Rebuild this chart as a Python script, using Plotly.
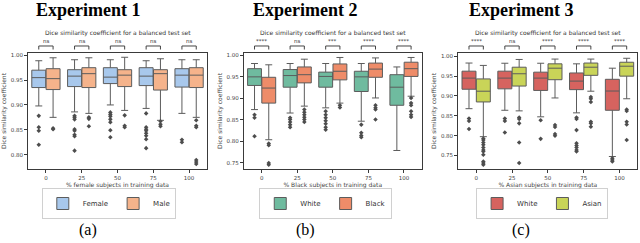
import plotly.graph_objects as go

categories = ["0", "25", "50", "75", "100"]

# ---------- Experiment 1 ----------
e1_groups = ["Female", "Male"]
e1_lo = [[0.898, 0.886, 0.900, 0.893, 0.883], [0.875, 0.883, 0.889, 0.869, 0.875]]
e1_q1 = [[0.935, 0.937, 0.943, 0.939, 0.936], [0.931, 0.935, 0.937, 0.930, 0.935]]
e1_med = [[0.955, 0.958, 0.956, 0.958, 0.960], [0.953, 0.963, 0.960, 0.963, 0.960]]
e1_q3 = [[0.970, 0.971, 0.975, 0.975, 0.973], [0.973, 0.975, 0.971, 0.971, 0.975]]
e1_hi = [[0.989, 0.991, 0.991, 0.989, 0.991], [0.995, 0.995, 0.996, 0.993, 0.991]]
e1_out = [
    [[0.878, 0.855, 0.848, 0.820],
     [0.878, 0.875, 0.871, 0.851, 0.848, 0.840, 0.837, 0.808],
     [0.885, 0.881, 0.877, 0.871, 0.865, 0.849, 0.835],
     [0.883, 0.855, 0.851, 0.848, 0.843, 0.838, 0.831, 0.813],
     [0.830, 0.825]],
    [[0.853, 0.851],
     [0.875, 0.872, 0.857],
     [0.879, 0.858, 0.855],
     [0.867, 0.861, 0.857],
     [0.869, 0.858, 0.855, 0.789, 0.785, 0.781]],
]
e1_sig = ["ns", "ns", "ns", "ns", "ns"]

# ---------- Experiment 2 ----------
e2_groups = ["White", "Black"]
e2_lo = [[0.874, 0.866, 0.878, 0.847, 0.779], [0.804, 0.882, 0.889, 0.901, 0.905]]
e2_q1 = [[0.930, 0.926, 0.926, 0.916, 0.884], [0.889, 0.936, 0.943, 0.949, 0.951]]
e2_med = [[0.950, 0.953, 0.951, 0.950, 0.926], [0.924, 0.955, 0.963, 0.968, 0.969]]
e2_q3 = [[0.969, 0.967, 0.961, 0.963, 0.955], [0.949, 0.973, 0.980, 0.982, 0.984]]
e2_hi = [[0.981, 0.981, 0.981, 0.981, 0.973], [0.978, 0.991, 0.995, 0.994, 0.995]]
e2_out = [
    [[0.862, 0.855, 0.812],
     [0.855, 0.851, 0.845, 0.839, 0.833],
     [0.870, 0.862, 0.855, 0.848, 0.841, 0.833, 0.827],
     [0.839, 0.820, 0.814, 0.810],
     []],
    [[0.795, 0.791, 0.750, 0.746],
     [0.874, 0.868, 0.862, 0.856, 0.851, 0.845],
     [0.884, 0.879],
     [0.884, 0.878, 0.874, 0.851],
     [0.901, 0.889, 0.884, 0.870, 0.862, 0.857]],
]
e2_sig = ["****", "ns", "***", "****", "****"]

# ---------- Experiment 3 ----------
e3_groups = ["White", "Asian"]
e3_lo = [[0.868, 0.864, 0.8475, 0.8575, 0.7475], [0.7975, 0.8625, 0.895, 0.912, 0.893]]
e3_q1 = [[0.917, 0.918, 0.914, 0.916, 0.864], [0.885, 0.925, 0.941, 0.952, 0.950]]
e3_med = [[0.945, 0.945, 0.945, 0.9375, 0.9125], [0.912, 0.956, 0.970, 0.9725, 0.975]]
e3_q3 = [[0.9625, 0.9625, 0.960, 0.958, 0.942], [0.943, 0.9725, 0.981, 0.983, 0.985]]
e3_hi = [[0.983, 0.9825, 0.9825, 0.981, 0.970], [0.977, 0.992, 0.993, 0.993, 0.995]]
e3_out = [
    [[0.843, 0.837, 0.817],
     [0.843, 0.837, 0.808],
     [0.839, 0.792],
     [0.846, 0.842, 0.814, 0.781, 0.775, 0.770, 0.764, 0.760],
     [0.743, 0.739, 0.735]],
    [[0.793, 0.789, 0.783, 0.777, 0.770, 0.764, 0.760, 0.752, 0.735, 0.731, 0.727],
     [0.846, 0.842, 0.831, 0.783, 0.731],
     [0.827, 0.822, 0.804, 0.800],
     [0.8975, 0.893, 0.885, 0.835, 0.831, 0.8225],
     [0.866, 0.862, 0.835, 0.828, 0.789]],
]
e3_sig = ["****", "ns", "****", "****", "****"]

panels = [
    dict(title="Experiment 1", label="(a)", groups=e1_groups, lo=e1_lo, q1=e1_q1, med=e1_med,
         q3=e1_q3, hi=e1_hi, out=e1_out, sig=e1_sig, colors=["#a8c8ec", "#f5b38b"],
         xtitle="% female subjects in training data", yrange=[0.771, 1.0046],
         dom=[0.0438, 0.3234], tcx=0.1375, lcx=0.1375, gcx=0.17),
    dict(title="Experiment 2", label="(b)", groups=e2_groups, lo=e2_lo, q1=e2_q1, med=e2_med,
         q3=e2_q3, hi=e2_hi, out=e2_out, sig=e2_sig, colors=["#6fbb9f", "#ee8c69"],
         xtitle="% Black subjects in training data", yrange=[0.736, 1.0054],
         dom=[0.381, 0.659], tcx=0.4766, lcx=0.4766, gcx=0.509),
    dict(title="Experiment 3", label="(c)", groups=e3_groups, lo=e3_lo, q1=e3_q1, med=e3_med,
         q3=e3_q3, hi=e3_hi, out=e3_out, sig=e3_sig, colors=["#d6635f", "#c9d458"],
         xtitle="% Asian subjects in training data", yrange=[0.716, 1.0083],
         dom=[0.716, 0.996], tcx=0.814, lcx=0.814, gcx=0.847),
]

FONT = "DejaVu Sans"
LINE = "#5c5c5c"
fig = go.Figure()
layout = dict(width=640, height=243, margin=dict(l=0, r=0, t=0, b=0),
              paper_bgcolor="white", plot_bgcolor="white", showlegend=True,
              font=dict(family=FONT, size=6, color="#333"))
annotations = []
shapes = []
ydom = [0.3045, 0.7819]
offsets = [-0.2, 0.2]
idx = list(range(len(categories)))

for p_i, p in enumerate(panels):
    n = "" if p_i == 0 else str(p_i + 1)
    xa, ya = "x" + n, "y" + n
    lg = "legend" + n
    for g in range(2):
        xs = [i + offsets[g] for i in idx]
        fig.add_trace(go.Box(
            x=xs, q1=p["q1"][g], median=p["med"][g], q3=p["q3"][g],
            lowerfence=p["lo"][g], upperfence=p["hi"][g],
            name=p["groups"][g], width=0.39, whiskerwidth=0.5,
            fillcolor=p["colors"][g], line=dict(color=LINE, width=1),
            boxpoints=False, xaxis=xa, yaxis=ya, legend=lg, showlegend=True,
            hoverinfo="skip"))
        ox, oy = [], []
        for i in idx:
            for v in p["out"][g][i]:
                ox.append(i + offsets[g])
                oy.append(v)
        fig.add_trace(go.Scatter(
            x=ox, y=oy, mode="markers", xaxis=xa, yaxis=ya, showlegend=False,
            marker=dict(symbol="diamond", size=3.5, color="#4d4d4d"), hoverinfo="skip"))
    layout["xaxis" + n] = dict(
        domain=p["dom"], anchor=ya, range=[-0.5, 4.5], tickvals=idx, ticktext=categories,
        showline=True, mirror=True, linecolor="#3a3a3a", linewidth=1, ticks="outside",
        ticklen=3, tickcolor="#3a3a3a", showgrid=False, zeroline=False,
        tickfont=dict(size=5.5, family=FONT, color="#444"),
        title=dict(text=p["xtitle"], font=dict(size=6, family=FONT, color="#444"), standoff=2))
    layout["yaxis" + n] = dict(
        domain=ydom, anchor=xa, range=p["yrange"], dtick=0.05, tick0=0, tickformat=".2f",
        showline=True, mirror=True, linecolor="#3a3a3a", linewidth=1, ticks="outside",
        ticklen=3, tickcolor="#3a3a3a", showgrid=False, zeroline=False,
        tickfont=dict(size=5.5, family=FONT, color="#444"),
        title=dict(text="Dice similarity coefficient", font=dict(size=6, family=FONT, color="#444"),
                   standoff=3))
    layout[lg] = dict(orientation="h", x=p["gcx"], y=1 - 203.5 / 243, xanchor="center",
                      yanchor="middle", bordercolor="#d0d0d0", borderwidth=1, bgcolor="white",
                      font=dict(size=7, family=FONT, color="#333"), itemwidth=30,
                      tracegroupgap=0)
    cx = (p["dom"][0] + p["dom"][1]) / 2
    annotations.append(dict(text="<b>%s</b>" % p["title"], x=p["tcx"], y=1 - 10.5 / 243,
                            xref="paper", yref="paper", showarrow=False, xanchor="center",
                            yanchor="middle",
                            font=dict(family="Liberation Serif", size=18, color="black")))
    annotations.append(dict(text=p["label"], x=p["lcx"], y=1 - 230 / 243, xref="paper",
                            yref="paper", showarrow=False, xanchor="center", yanchor="middle",
                            font=dict(family="Liberation Serif", size=16, color="black")))
    annotations.append(dict(text="Dice similarity coefficient for a balanced test set", x=cx,
                            y=1 - 33 / 243, xref="paper", yref="paper", showarrow=False,
                            xanchor="center", yanchor="middle",
                            font=dict(family=FONT, size=6, color="#333")))
    yh, yl = 1 - 46 / 243, 1 - 49.5 / 243
    for i in idx:
        x0, x1 = i + offsets[0], i + offsets[1]
        shapes.append(dict(type="path", xref=xa, yref="paper",
                           path="M %f,%f L %f,%f L %f,%f L %f,%f" % (x0, yl, x0, yh, x1, yh, x1, yl),
                           line=dict(color="#444", width=1)))
        annotations.append(dict(text=p["sig"][i], x=i, y=1 - 41.5 / 243, xref=xa, yref="paper",
                                showarrow=False, xanchor="center", yanchor="middle",
                                font=dict(family=FONT, size=5.5, color="#333")))

layout["annotations"] = annotations
layout["shapes"] = shapes
fig.update_layout(**layout)
fig.write_html("out.html", config={"displayModeBar": False},
               post_script="document.body.style.margin='0';document.body.style.overflow='hidden';")
